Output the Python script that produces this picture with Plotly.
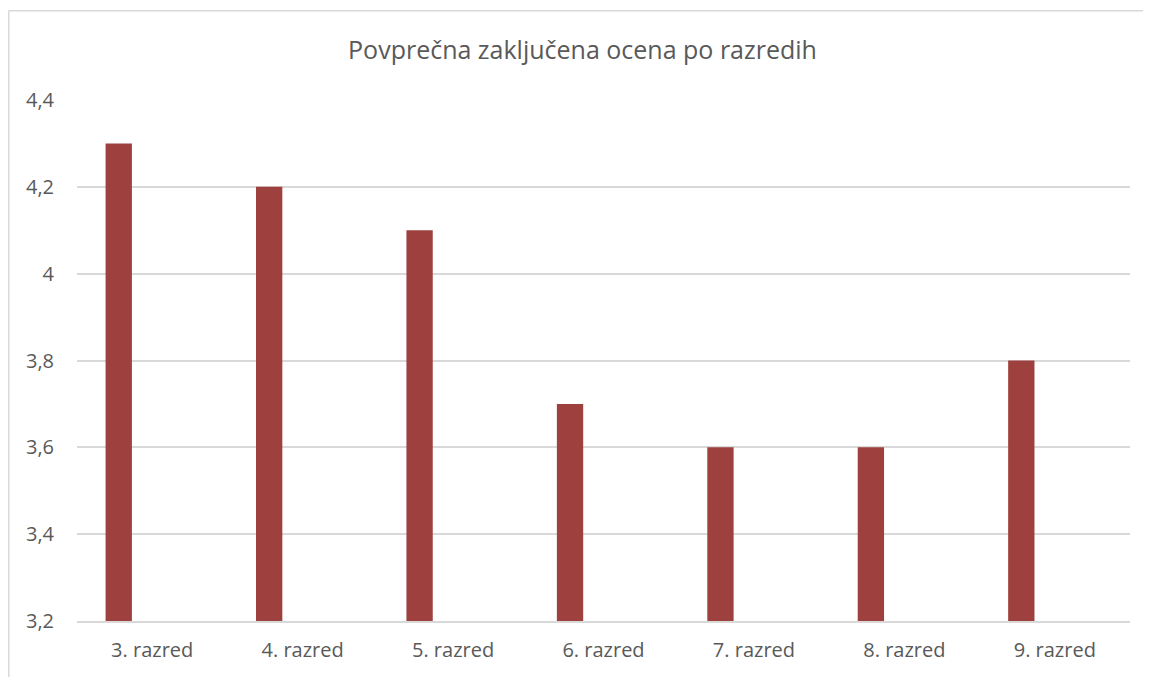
import plotly.graph_objects as go

categories = ["3. razred", "4. razred", "5. razred", "6. razred", "7. razred", "8. razred", "9. razred"]
values = [4.3, 4.2, 4.1, 3.7, 3.6, 3.6, 3.8]
tick_vals = [3.2, 3.4, 3.6, 3.8, 4.0, 4.2, 4.4]
tick_text = ["3,2", "3,4", "3,6", "3,8", "4", "4,2", "4,4"]

# page has an 8px body margin, so figure coordinates are shifted by 8px
OFF = 8
W, H = 1151 - OFF, 677 - OFF
L, R, T, B = 77 - OFF, 1130 - OFF, 100 - OFF, 621 - OFF
pw, ph = R - L, B - T

fig = go.Figure()
fig.add_trace(go.Bar(
    x=categories, y=values,
    marker=dict(color="#9E413E", line=dict(width=0)),
    width=0.175, offset=-0.31,
    hoverinfo="x+y",
))

def px2paper_x(p):
    return (p - OFF - L) / pw

def px2paper_y(p):
    return (B - (p - OFF)) / ph

border = dict(color="#D9D9D9", width=1.5)
fig.update_layout(
    width=W, height=H,
    margin=dict(l=L, r=W - R, t=T, b=H - B, pad=0),
    paper_bgcolor="white", plot_bgcolor="white",
    separators=", ",
    showlegend=False,
    font=dict(family="Open Sans, Noto Sans, sans-serif", color="#595959"),
    title=dict(
        text="Povprečna zaključena ocena po razredih",
        x=px2paper_x(582.5), xanchor="center", xref="paper",
        y=1 - (50 - OFF) / H, yanchor="middle",
        font=dict(size=25, color="#595959"),
    ),
    xaxis=dict(
        type="category", range=[-0.5, 6.5],
        showgrid=False, zeroline=False,
        showline=True, linecolor="#D9D9D9", linewidth=1.5,
        ticks="", tickfont=dict(size=20, color="#595959"),
        ticklabelstandoff=10,
    ),
    yaxis=dict(
        range=[3.2, 4.4],
        tickvals=tick_vals, ticktext=tick_text,
        showgrid=True, gridcolor="#D9D9D9", gridwidth=1.5,
        zeroline=False, showline=False, ticks="",
        tickfont=dict(size=20, color="#595959"),
        ticklabelstandoff=22,
    ),
    shapes=[
        dict(type="line", xref="paper", yref="paper",
             x0=px2paper_x(OFF + 0.8), x1=px2paper_x(1160),
             y0=px2paper_y(10.8), y1=px2paper_y(10.8),
             line=border, layer="below"),
        dict(type="line", xref="paper", yref="paper",
             x0=px2paper_x(OFF + 0.8), x1=px2paper_x(OFF + 0.8),
             y0=px2paper_y(10.8), y1=px2paper_y(700),
             line=border, layer="below"),
    ],
)

fig.write_html("out.html")
